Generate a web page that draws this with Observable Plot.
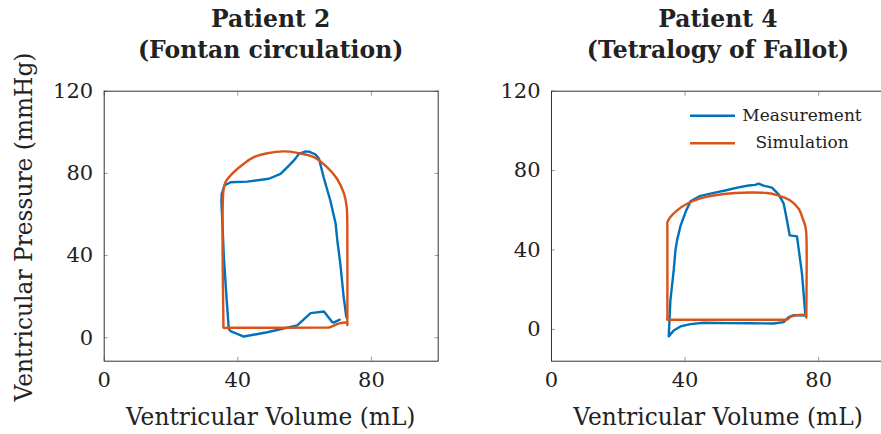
<!DOCTYPE html>
<html><head><meta charset="utf-8">
<script src="https://cdn.jsdelivr.net/npm/d3@7"></script>
<script src="https://cdn.jsdelivr.net/npm/@observablehq/plot@0.6"></script>
<style>
html,body{margin:0;padding:0;background:#fff;}
#fig{position:relative;width:881px;height:434px;overflow:hidden;background:#fff;}
#fig svg{position:absolute;top:0;}
</style></head><body><div id="fig"></div>
<script>
// ---- data ----
const panelTitles = [["Patient 2", "(Fontan circulation)"], ["Patient 4", "(Tetralogy of Fallot)"]];
const xLabel = "Ventricular Volume (mL)";
const yLabel = "Ventricular Pressure (mmHg)";
const seriesNames = ["Measurement", "Simulation"];
const seriesColors = ["#0072BD", "#D95319"];
const xTicks = [0, 40, 80];
const yTicks = [0, 40, 80, 120];

// Patient 2 (Fontan) - [volume mL, pressure mmHg]
const p2Measurement = [
  [72.5,10],[71.7,19.8],[70.7,36],[69.8,47.3],[69.3,55.5],[67.7,66.8],[65.7,78.1],[64.3,87.1],
  [63.3,89.2],[61.5,90.5],[60.3,90.7],[58.3,89.5],[56.8,86.3],[55.3,83.8],[52.8,79.8],[49.3,77.4],
  [42.8,76],[37.8,75.7],[36,74.1],[35.2,70.1],[35.1,66],[35.5,52],[35.8,40],[36.6,20],[37.3,4.4],
  [37.8,3.2],[41.8,0.6],[48.8,2.7],[57.8,6.0],[61.8,12],[65.8,12.8],[68.3,7.6],[68.7,7.4],[70.5,8.8]
];
const p2Simulation = [
  [72.8,6.2],[72.8,7.2],[72.8,47],[72.6,63.6],[71.8,70.1],[69.7,77.4],[66.7,83],[62.8,87.9],[57.8,90],
  [53.8,90.7],[48.8,89.8],[44.8,87.9],[41.8,84.7],[38.8,80.6],[36.3,75.7],[35.7,71.7],[35.7,6],[35.7,4.9],
  [37,4.9],[66,4.95],[67.3,5.0],[70.4,7.0],[72.8,7.2],[72.8,6.2]
];
// Patient 4 (Tetralogy of Fallot)
const p4Measurement = [
  [76,7.5],[75,28],[73.5,46.9],[71.3,47.4],[70.5,55],[69.5,63.5],[68,68],[66,71.4],[63.5,72.4],
  [62,73.4],[61,72.8],[59,72.5],[55.6,71.4],[52,70],[49.6,69.2],[44.6,67.3],[41.6,64.5],[40.1,59],
  [38.6,52],[37.6,45],[37.1,39.8],[36.6,30],[35.6,14.6],[35.1,-3.5],[36.6,-0.5],[38.6,1.5],
  [41.6,2.7],[45.6,3.4],[52.6,3.2],[59.5,3.1],[66.5,3.0],[69.5,3.7],[71,6.2],[72.5,7.2],[76,7]
];
const p4Simulation = [
  [76.3,6],[76.3,7],[76.3,48],[76,52],[75.5,54.5],[74,60.8],[71.5,65],[67.5,67.7],[64.5,68.7],[59.5,69],
  [51.6,68.2],[44.6,66],[40.6,63.3],[37.6,60],[35.6,56.6],[34.7,54],[34.7,52],[34.7,6],[34.7,4.9],[36,4.9],
  [69.5,4.9],[70.5,4.95],[71.5,6.3],[73.5,7.2],[76.3,7],[76.3,6]
];
const xDomain = [0, 100];
const yDomains = [[-11.4, 120], [-16, 120]];

// ---- drawing ----
const fig = document.getElementById("fig");
const FONT = "DejaVu Serif";
const panels = [
  {left: 0, width: 450, marginLeft: 103.7, marginRight: 12.3, meas: p2Measurement, sim: p2Simulation, yDomain: yDomains[0], titles: panelTitles[0]},
  {left: 450, width: 450, marginLeft: 101, marginRight: 15, meas: p4Measurement, sim: p4Simulation, yDomain: yDomains[1], titles: panelTitles[1]}
];
const tickColor = "#9a9a9a";
panels.forEach(p => {
  const chart = Plot.plot({
    width: p.width, height: 434,
    marginLeft: p.marginLeft, marginRight: p.marginRight, marginTop: 90.7, marginBottom: 73.3,
    x: {domain: xDomain}, y: {domain: p.yDomain},
    style: {fontFamily: FONT, fontSize: "21px", color: "#222", background: "transparent", overflow: "visible"},
    marks: [
      Plot.axisX(xTicks, {anchor: "bottom", tickSize: -4, tickPadding: 15, label: null, stroke: tickColor, fill: "#222"}),
      Plot.axisX(xTicks, {anchor: "top", tickSize: -4, tickFormat: () => "", label: null, stroke: tickColor}),
      Plot.axisY(yTicks, {anchor: "left", tickSize: -4, tickPadding: 15, label: null, stroke: tickColor, fill: "#222"}),
      Plot.axisY(yTicks, {anchor: "right", tickSize: -4, tickFormat: () => "", label: null, stroke: tickColor}),
      Plot.frame({stroke: "#333", strokeWidth: 1}),
      Plot.line(p.meas, {x: d => d[0], y: d => d[1], stroke: seriesColors[0], strokeWidth: 2.4}),
      Plot.line(p.sim, {x: d => d[0], y: d => d[1], stroke: seriesColors[1], strokeWidth: 2.4, curve: "catmull-rom"})
    ]
  });
  chart.style.left = p.left + "px";
  fig.appendChild(chart);
});

// text overlay: titles, axis labels, legend
const ns = "http://www.w3.org/2000/svg";
const ov = document.createElementNS(ns, "svg");
ov.setAttribute("width", 881); ov.setAttribute("height", 434);
ov.style.left = "0px"; ov.style.pointerEvents = "none";
fig.appendChild(ov);
function txt(s, x, y, opts = {}) {
  const t = document.createElementNS(ns, "text");
  t.textContent = s;
  t.setAttribute("x", x); t.setAttribute("y", y);
  t.setAttribute("text-anchor", opts.anchor || "middle");
  t.setAttribute("font-family", FONT);
  t.setAttribute("font-size", opts.size || 22);
  if (opts.bold) t.setAttribute("font-weight", "bold");
  t.setAttribute("fill", opts.fill || "#222");
  if (opts.transform) t.setAttribute("transform", opts.transform);
  ov.appendChild(t);
  return t;
}
function ln(x1, y1, x2, y2, c) {
  const l = document.createElementNS(ns, "line");
  l.setAttribute("x1", x1); l.setAttribute("y1", y1); l.setAttribute("x2", x2); l.setAttribute("y2", y2);
  l.setAttribute("stroke", c); l.setAttribute("stroke-width", 2.4);
  ov.appendChild(l);
}
const centers = [270.7, 718];
panels.forEach((p, i) => {
  txt(p.titles[0], centers[i], 26.7, {bold: true, size: 23.5});
  txt(p.titles[1], centers[i], 58.3, {bold: true, size: 23.5});
  txt(xLabel, centers[i], 425, {size: 23.3});
});
txt(yLabel, 0, 0, {size: 23.3, transform: "translate(32,227) rotate(-90)"});
// legend
ln(690, 115.7, 735, 115.7, seriesColors[0]);
ln(690, 143.3, 735, 143.3, seriesColors[1]);
txt(seriesNames[0], 802, 120.5, {size: 17});
txt(seriesNames[1], 802, 148, {size: 17});
</script></body></html>
